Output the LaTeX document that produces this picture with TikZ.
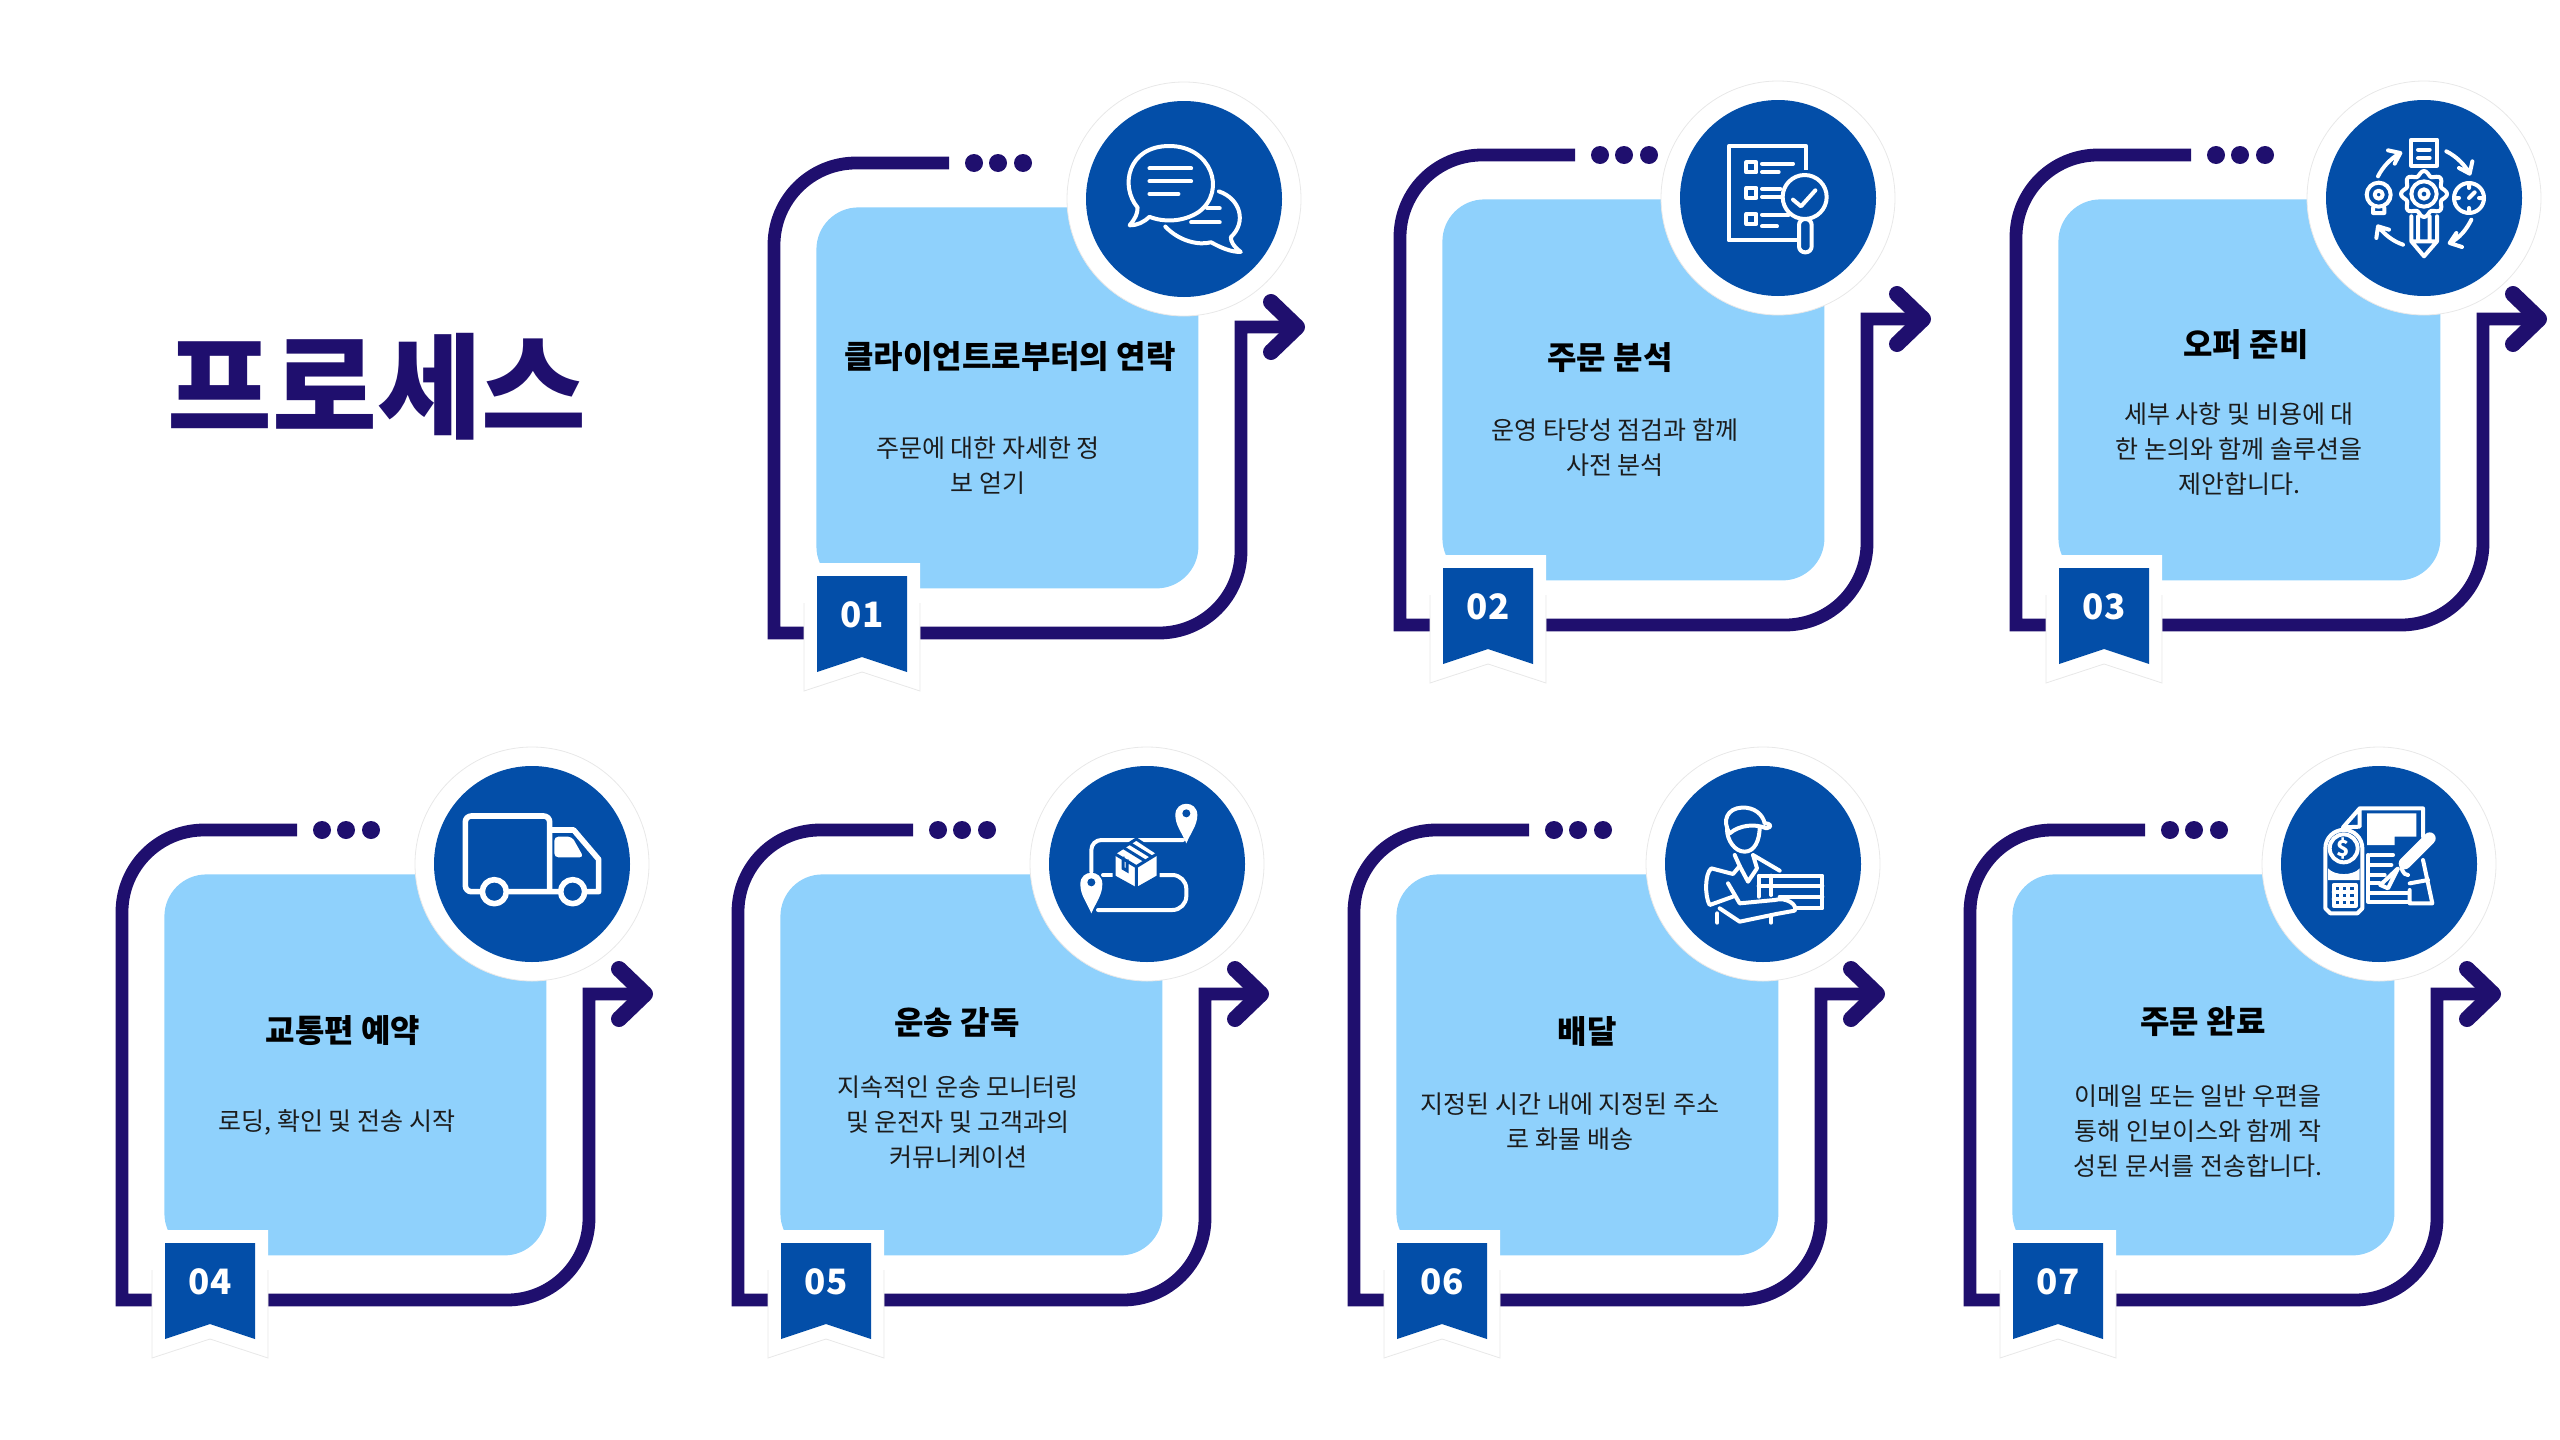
\documentclass[tikz,border=0pt]{standalone}
\usepackage{fontspec}
\setmainfont{Noto Sans CJK KR}
\usetikzlibrary{arrows.meta, positioning, calc}
\definecolor{frameink}{HTML}{1F0F6E}
\definecolor{discblue}{HTML}{034EA8}
\definecolor{boxblue}{HTML}{8FD1FC}
\definecolor{bodyink}{HTML}{1C1C1C}

\newcommand{\cardframe}[1]{
    \coordinate (end#1) at ($(box#1.north west)+(133,-44)$);
    \coordinate (tl#1) at ($(box#1.north west)+(-42,-44)$);
    \coordinate (bl#1) at ($(box#1.north west)+(-42,426)$);
    \coordinate (br#1) at ($(box#1.north west)+(425,426)$);
    \coordinate (tr#1) at ($(box#1.north west)+(425,120)$);
    \coordinate (tip#1) at ($(box#1.north west)+(489,120)$);
    \draw[frameline, rounded corners=41pt] (end#1) -- (tl#1) [sharp corners] -- (bl#1) [rounded corners=41pt] -- (br#1) [sharp corners] -- (tr#1) -- (tip#1);
    \node[framedot] (dota#1) at ($(end#1)+(25,0)$) {};
    \node[framedot] (dotb#1) at ($(end#1)+(49,0)$) {};
    \node[framedot] (dotc#1) at ($(end#1)+(74,0)$) {};
}
\newcommand{\ribbon}[2]{
    \coordinate (rib#1) at ($(box#1.north west)+(46,0)$);
    \fill[white] ($(rib#1)+(-58,356)$) -- ($(rib#1)+(58,356)$) -- ($(rib#1)+(58,484)$) -- ($(rib#1)+(0,465)$) -- ($(rib#1)+(-58,484)$) -- cycle;
    \draw[faintline] ($(rib#1)+(58,396)$) -- ($(rib#1)+(58,484)$) -- ($(rib#1)+(0,465)$) -- ($(rib#1)+(-58,484)$) -- ($(rib#1)+(-58,396)$);
    \fill[discblue] ($(rib#1)+(-45,369)$) -- ($(rib#1)+(45,369)$) -- ($(rib#1)+(45,465)$) -- ($(rib#1)+(0,450)$) -- ($(rib#1)+(-45,465)$) -- cycle;
    \node[badgenum] (num#1) at ($(rib#1)+(0,408)$) {#2};
}
\newcommand{\iconchat}{
    \begin{scope}[shift={(ring1.center)}, xscale=0.397, yscale=0.424, shift={(-1122,-330)}]
        \draw[iconline] (1075,395) .. controls (1110,430) and (1160,440) .. (1190,432) .. controls (1215,445) and (1240,455) .. (1265,455) .. controls (1245,440) and (1240,430) .. (1240,420) .. controls (1280,385) and (1265,330) .. (1210,312);
        \draw[iconline, fill=discblue] (985,392) .. controls (1000,375) and (1005,365) .. (1005,350) .. controls (960,300) and (980,205) .. (1085,205) .. controls (1190,205) and (1230,310) .. (1160,360) .. controls (1120,385) and (1070,385) .. (1035,372) .. controls (1020,385) and (1005,392) .. (985,392) -- cycle;
        \draw[iconline] (1035,258) -- (1140,258) (1035,288) -- (1140,288) (1035,318) -- (1108,318) (1180,352) -- (1212,352) (1140,385) -- (1212,385);
    \end{scope}
}
\newcommand{\iconlist}{
    \begin{scope}[shift={(ring2.center)}, scale=1/3, shift={(-413,-415)}]
        \draw[iconline, line cap=butt] (498,330) -- (498,260) -- (265,260) -- (265,542) -- (470,542);
        \draw[iconline] (318,308) rectangle (348,338) (318,385) rectangle (348,415) (318,463) rectangle (348,493);
        \draw[iconline] (365,312) -- (458,312) (365,337) -- (415,337) (365,388) -- (420,388) (365,412) -- (420,412) (365,465) -- (445,465) (365,500) -- (410,500);
        \draw[iconline] (493,412) circle (66) (458,420) -- (482,440) -- (525,392);
        \draw[iconline, rounded corners=3pt] (476,478) -- (476,578) -- (514,578) -- (514,478) -- cycle;
    \end{scope}
}
\newcommand{\icongear}{
    \begin{scope}[shift={(ring3.center)}, scale=1/3, shift={(-433,-415)}]
        \draw[iconline] (395,240) rectangle (472,318) (415,270) -- (450,270) (415,295) -- (450,295);
        \draw[iconline] plot[domain=0:360, samples=73, smooth] ({433+(62+7*cos(8*\x))*cos(\x)},{403+(62+7*cos(8*\x))*sin(\x)});
        \draw[iconline] (433,403) circle (38) (433,403) circle (14);
        \draw[iconline] (395,470) -- (395,545) -- (433,590) -- (472,545) -- (472,470) (415,470) -- (415,545) (450,470) -- (450,545) (395,545) -- (472,545);
        \draw[iconline] (297,405) circle (36) (297,405) circle (12) (280,445) -- (280,460) -- (314,460) -- (314,445);
        \draw[iconline] (568,415) circle (45) (568,415) -- (585,398) (568,370) -- (568,385) (568,445) -- (568,460) (523,415) -- (538,415) (598,415) -- (613,415);
        \draw[iconline] (295,350) .. controls (310,320) and (335,295) .. (362,280) (325,272) -- (362,280) -- (345,312);
        \draw[iconline] (500,275) .. controls (530,290) and (555,315) .. (570,342) (578,305) -- (570,342) -- (538,325);
        \draw[iconline] (575,480) .. controls (560,510) and (540,535) .. (510,550) (547,562) -- (510,550) -- (530,520);
        \draw[iconline] (370,555) .. controls (340,545) and (315,525) .. (295,500) (290,535) -- (295,500) -- (328,510);
    \end{scope}
}
\newcommand{\icontruck}{
    \begin{scope}[shift={(ring4.center)}, scale=1/3, shift={(-395,-372)}]
        \draw[iconthick, rounded corners=3pt] (240,455) -- (195,455) -- (195,228) -- (448,228) -- (448,455);
        \draw[iconthick] (325,455) -- (478,455) (448,270) -- (520,270) -- (595,358) -- (595,455) -- (560,455);
        \fill[white, rounded corners=2pt] (462,290) -- (515,290) -- (550,352) -- (462,352) -- cycle;
        \draw[iconthick] (282,455) circle (36) (517,455) circle (36);
    \end{scope}
}
\newcommand{\iconroute}{
    \begin{scope}[shift={(ring5.center)}, scale=1/3, shift={(-382,-372)}]
        \draw[iconline, rounded corners=5pt] (490,300) -- (215,300) -- (215,395);
        \draw[iconline] (250,405) -- (285,405);
        \draw[iconline, rounded corners=7pt] (420,405) -- (500,405) -- (500,510) -- (235,510);
        \fill[white] (500,310) .. controls (485,275) and (467,255) .. (467,225) .. controls (467,180) and (533,180) .. (533,225) .. controls (533,255) and (515,275) .. (500,310) -- cycle;
        \fill[discblue] (500,220) circle (12);
        \fill[white] (215,520) .. controls (200,485) and (182,465) .. (182,432) .. controls (182,387) and (248,387) .. (248,432) .. controls (248,465) and (230,485) .. (215,520) -- cycle;
        \fill[discblue] (215,427) circle (12);
        \draw[discblue, line width=1.5pt, fill=white] (350,297) -- (283,340) -- (283,410) -- (350,447) -- (415,410) -- (415,340) -- cycle;
        \draw[discblue, line width=1.5pt] (283,340) -- (350,380) -- (415,340) (350,380) -- (350,447) (310,322) -- (375,362) (330,310) -- (395,350) (310,350) -- (310,385) -- (322,392) -- (322,358);
    \end{scope}
}
\newcommand{\iconcourier}{
    \begin{scope}[shift={(ring6.center)}, scale=1/3, shift={(-370,-372)}]
        \draw[iconline] (262,268) .. controls (262,300) and (285,335) .. (315,335) .. controls (345,335) and (360,300) .. (360,262);
        \draw[iconline] (270,280) .. controls (245,240) and (265,205) .. (305,203) .. controls (345,200) and (370,225) .. (375,250) .. controls (395,250) and (398,262) .. (380,265) .. controls (345,250) and (300,255) .. (270,280) -- cycle;
        \draw[iconline] (285,345) -- (300,378) -- (280,402) -- (215,385) .. controls (195,400) and (195,470) .. (210,495) -- (285,468);
        \draw[iconline] (340,345) -- (352,385) -- (325,425) -- (300,378) (340,345) -- (420,392);
        \draw[iconline] (265,430) -- (300,490) -- (405,480) .. controls (440,470) and (475,495) .. (465,512) -- (410,522) -- (300,545) -- (240,505);
        \draw[iconline] (357,470) -- (357,407) -- (548,407) -- (548,505) -- (470,505);
        \draw[iconline] (357,438) -- (548,438) (420,470) -- (548,470) (395,407) -- (395,465);
        \draw[iconline] (233,520) -- (233,548) (394,530) -- (394,548);
    \end{scope}
}
\newcommand{\iconinvoice}{
    \begin{scope}[shift={(ring7.center)}, scale=1/3, shift={(-358,-372)}]
        \draw[iconline] (250,262) -- (300,205) -- (300,260) -- (250,262) (300,205) -- (490,205) -- (490,290);
        \fill[white] (322,220) -- (470,220) -- (470,290) -- (405,290) -- (405,315) -- (322,315) -- cycle;
        \draw[iconline, fill=discblue] (197,325) arc (180:360:55.5) -- (308,505) -- (293,520) -- (212,520) -- (197,505) -- cycle;
        \draw[iconline] (252,325) circle (42);
        \node[dollar] (dollar7) at (252,325) {\$};
        \fill[white] (205,385) .. controls (225,408) and (280,408) .. (300,385) -- (300,420) -- (205,420) -- cycle;
        \draw[iconline] (222,435) rectangle (288,497) (244,435) -- (244,497) (266,435) -- (266,497) (222,456) -- (288,456) (222,477) -- (288,477);
        \draw[iconline] (325,345) -- (325,485) -- (450,485) (332,345) -- (400,345) (332,375) -- (395,375) (332,405) -- (375,405) (332,430) -- (360,430) (332,460) -- (445,460);
        \draw[white, line width=6pt, line cap=round] (435,370) -- (510,295);
        \draw[iconline] (362,435) -- (415,385) -- (385,445) -- (362,435);
        \draw[iconline] (490,360) -- (518,490) -- (450,490) -- (450,450) (430,360) .. controls (420,385) and (430,405) .. (445,405) (450,430) -- (505,420);
    \end{scope}
}

\begin{document}
\begin{tikzpicture}[x=0.5pt, y=-0.5pt,
    cardbox/.style={fill=boxblue, rounded corners=21pt, minimum width=191pt, minimum height=190.5pt, inner sep=0pt, anchor=north west},
    frameline/.style={draw=frameink, line width=6.4pt, line join=miter, -{Straight Barb[round, line width=8pt, length=13pt, width=25pt]}},
    framedot/.style={circle, fill=frameink, minimum size=9pt, inner sep=0pt},
    ringdisc/.style={circle, fill=white, draw=black!9, line width=0.4pt, minimum size=117pt, inner sep=0pt},
    icondisc/.style={circle, fill=discblue, minimum size=98pt, inner sep=0pt},
    iconline/.style={draw=white, line width=2pt, line cap=round, line join=round},
    iconthick/.style={draw=white, line width=2.8pt, line join=round},
    faintline/.style={draw=black!9, line width=0.4pt},
    badgenum/.style={white, font=\fontsize{17.5}{20}\selectfont\bfseries, inner sep=0pt},
    dollar/.style={white, font=\fontsize{11}{12}\selectfont\bfseries, inner sep=0pt},
    titletext/.style={text=frameink, font=\fontsize{57}{64}\selectfont\bfseries, inner sep=0pt},
    headtext/.style={text=black, font=\fontsize{16}{18}\selectfont\bfseries, inner sep=0pt},
    bodytext/.style={text=bodyink, align=center, font=\fontsize{12.5}{17.5}\selectfont, inner sep=0pt}]
        \useasboundingbox (0,0) rectangle (2560,1440);

        \node[titletext] (title) at (377,387) {프로세스};

        \node[cardbox] (box1) at (816,207) {};
        \cardframe{1}
        \node[ringdisc] (ring1) at (1184,199) {};
        \node[icondisc] (disc1) at (ring1) {};
        \iconchat
        \ribbon{1}{01}
        \node[headtext] (head1) at (1010,357) {클라이언트로부터의 연락};
        \node[bodytext] (body1) at (988,466) {주문에 대한 자세한 정\\보 얻기};

        \node[cardbox] (box2) at (1442,199) {};
        \cardframe{2}
        \node[ringdisc] (ring2) at (1778,198) {};
        \node[icondisc] (disc2) at (ring2) {};
        \iconlist
        \ribbon{2}{02}
        \node[headtext] (head2) at (1610,358) {주문 분석};
        \node[bodytext] (body2) at (1615,448) {운영 타당성 점검과 함께\\사전 분석};

        \node[cardbox] (box3) at (2058,199) {};
        \cardframe{3}
        \node[ringdisc] (ring3) at (2424,198) {};
        \node[icondisc] (disc3) at (ring3) {};
        \icongear
        \ribbon{3}{03}
        \node[headtext] (head3) at (2246,345) {오퍼 준비};
        \node[bodytext] (body3) at (2239,449) {세부 사항 및 비용에 대\\한 논의와 함께 솔루션을\\제안합니다.};

        \node[cardbox] (box4) at (164,874) {};
        \cardframe{4}
        \node[ringdisc] (ring4) at (532,864) {};
        \node[icondisc] (disc4) at (ring4) {};
        \icontruck
        \ribbon{4}{04}
        \node[headtext] (head4) at (343,1031) {교통편 예약};
        \node[bodytext] (body4) at (337,1122) {로딩, 확인 및 전송 시작};

        \node[cardbox] (box5) at (780,874) {};
        \cardframe{5}
        \node[ringdisc] (ring5) at (1147,864) {};
        \node[icondisc] (disc5) at (ring5) {};
        \iconroute
        \ribbon{5}{05}
        \node[headtext] (head5) at (957,1023) {운송 감독};
        \node[bodytext] (body5) at (958,1122) {지속적인 운송 모니터링\\및 운전자 및 고객과의\\커뮤니케이션};

        \node[cardbox] (box6) at (1396,874) {};
        \cardframe{6}
        \node[ringdisc] (ring6) at (1763,864) {};
        \node[icondisc] (disc6) at (ring6) {};
        \iconcourier
        \ribbon{6}{06}
        \node[headtext] (head6) at (1587,1031) {배달};
        \node[bodytext] (body6) at (1570,1122) {지정된 시간 내에 지정된 주소\\로 화물 배송};

        \node[cardbox] (box7) at (2012,874) {};
        \cardframe{7}
        \node[ringdisc] (ring7) at (2379,864) {};
        \node[icondisc] (disc7) at (ring7) {};
        \iconinvoice
        \ribbon{7}{07}
        \node[headtext] (head7) at (2203,1022) {주문 완료};
        \node[bodytext] (body7) at (2198,1131) {이메일 또는 일반 우편을\\통해 인보이스와 함께 작\\성된 문서를 전송합니다.};
    \end{tikzpicture}
\end{document}
